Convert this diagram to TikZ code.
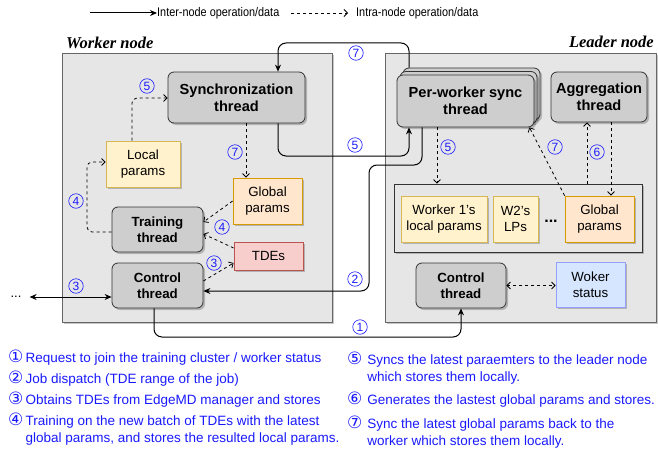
\documentclass[tikz,border=0pt]{standalone}
\usepackage{fontspec}
\setmainfont{Liberation Sans}
\newfontfamily\titlefont{Liberation Serif}
\newfontfamily\circfont{DejaVu Sans}
\usetikzlibrary{arrows.meta, shadows}
\definecolor{NumBlue}{RGB}{25,25,255}
\definecolor{PanelGray}{RGB}{230,230,230}
\definecolor{ThreadGray}{RGB}{206,206,206}
\definecolor{LocalFill}{RGB}{255,242,204}
\definecolor{LocalLine}{RGB}{214,182,86}
\definecolor{GlobalFill}{RGB}{255,230,204}
\definecolor{GlobalLine}{RGB}{215,155,0}
\definecolor{TdeFill}{RGB}{248,206,204}
\definecolor{TdeLine}{RGB}{184,84,80}
\definecolor{StatusFill}{RGB}{214,230,255}
\definecolor{StatusLine}{RGB}{150,160,255}
\newcommand{\stepnum}[1]{\smash{\circfont\fontsize{17}{17}\selectfont #1}}

\begin{document}
\begin{tikzpicture}[x=1pt, y=-1pt,
    shadowed/.style={drop shadow={shadow xshift=2pt, shadow yshift=-2pt, opacity=0.22, fill=black}},
    panel/.style={draw=black!60, fill=PanelGray, line width=0.8pt, shadowed},
    thread/.style={draw=black!80, fill=ThreadGray, rounded corners=6pt, line width=0.8pt, align=center, inner sep=2pt, font=\fontsize{14.6}{17}\selectfont\bfseries, shadowed},
    smallthread/.style={thread, font=\fontsize{13.3}{15.5}\selectfont\bfseries},
    param/.style={line width=0.8pt, align=center, inner sep=2pt, font=\fontsize{13.3}{15.5}\selectfont, shadowed},
    localp/.style={param, draw=LocalLine, fill=LocalFill},
    globalp/.style={param, draw=GlobalLine, fill=GlobalFill},
    num/.style={circle, draw=NumBlue, text=NumBlue, line width=0.6pt, inner sep=0pt, minimum size=14.5pt, font=\fontsize{12}{12}\selectfont},
    inter/.style={-{Stealth[length=7pt, width=6pt]}, line width=1pt, rounded corners=8pt},
    intra/.style={-{Straight Barb[length=3.5pt, width=7pt]}, dash pattern=on 3pt off 3pt, line width=0.8pt, rounded corners=5pt},
    dboth/.style={{Straight Barb[length=3.5pt, width=7pt]}-{Straight Barb[length=3.5pt, width=7pt]}},
    sboth/.style={{Stealth[length=7pt, width=6pt]}-{Stealth[length=7pt, width=6pt]}},
    legend/.style={anchor=west, inner sep=0pt, text=NumBlue, font=\fontsize{13.5}{17}\selectfont},
    keytext/.style={anchor=west, inner sep=0pt, font=\fontsize{12.5}{14}\selectfont}
  ]
    \useasboundingbox (0,0) rectangle (658,452);

    % Legend
    \coordinate (legA) at (90,13);
    \node[keytext] (legAt) at (157,13) {\scalebox{0.87}[1]{Inter-node operation/data}};
    \draw[inter] (legA) -- (legAt.west);
    \coordinate (legB) at (291,13);
    \node[keytext] (legBt) at (356,13) {\scalebox{0.87}[1]{Intra-node operation/data}};
    \draw[intra, shorten >=8pt] (legB) -- (legBt.west);

    % Panels
    \node[panel, minimum width=270, minimum height=269] (worker) at (197,187.5) {};
    \node[panel, minimum width=271, minimum height=269] (leader) at (520.5,187.5) {};
    \node[anchor=west, inner sep=0pt, font=\titlefont\fontsize{16.5}{18}\selectfont\bfseries\itshape] (wtitle) at (66,43) {Worker node};
    \node[anchor=east, inner sep=0pt, font=\titlefont\fontsize{16.5}{18}\selectfont\bfseries\itshape] (ltitle) at (654,42) {Leader node};

    % Worker node
    \node[thread, minimum width=137, minimum height=51] (sync) at (236.5,97.5) {Synchronization\\thread};
    \node[localp, minimum width=74, minimum height=46] (localw) at (143,164) {Local\\params};
    \node[globalp, minimum width=69, minimum height=46] (globalw) at (267.5,201) {Global\\params};
    \node[smallthread, minimum width=91, minimum height=45] (train) at (157.5,229.5) {Training\\thread};
    \node[param, draw=TdeLine, fill=TdeFill, minimum width=69, minimum height=28] (tdes) at (268.5,256) {TDEs};
    \node[smallthread, minimum width=91, minimum height=45] (ctrlw) at (157.5,285.5) {Control\\thread};
    \node[inner sep=0pt, font=\fontsize{13}{14}\selectfont] (more) at (16,297) {...};

    % Leader node
    \node[thread, minimum width=137, minimum height=52] (pwsb) at (471.5,94) {};
    \node[thread, minimum width=137, minimum height=52] (pwsm) at (468.5,97.5) {};
    \node[thread, minimum width=137, minimum height=52] (pws) at (465.5,101) {Per-worker sync\\thread};
    \node[thread, minimum width=96, minimum height=50] (agg) at (599,97) {Aggregation\\thread};
    \node[panel, draw=black!80, minimum width=248, minimum height=68] (store) at (518,218) {};
    \node[localp, minimum width=86, minimum height=46] (w1lp) at (444,219) {Worker 1's\\local params};
    \node[localp, minimum width=45, minimum height=46] (w2lp) at (515.5,219) {W2's\\LPs};
    \node[inner sep=0pt, font=\fontsize{16}{16}\selectfont\bfseries] (lpdots) at (551,221) {...};
    \node[globalp, minimum width=69, minimum height=46] (globall) at (599.5,219) {Global\\params};
    \node[smallthread, minimum width=90, minimum height=45] (ctrll) at (461,285.5) {Control\\thread};
    \node[param, draw=StatusLine, fill=StatusFill, minimum width=69, minimum height=45] (status) at (590.5,284.5) {Woker\\status};

    % Inter-node connectors
    \coordinate (r7) at (409,43);
    \coordinate (l7) at (278,43);
    \draw[inter] (r7 |- pwsb.north) -- (r7) -- (l7) -- (l7 |- sync.north);
    \coordinate (l5) at (278,156);
    \coordinate (r5) at (409,156);
    \draw[inter] (l5 |- sync.south) -- (l5) -- (r5) -- (r5 |- pws.south);
    \coordinate (a2) at (422,165);
    \coordinate (b2) at (369,165);
    \coordinate (c2) at (369,291);
    \draw[inter] (a2 |- pws.south) -- (a2) -- (b2) -- (c2) -- (c2 -| ctrlw.east);
    \coordinate (a1) at (154,337);
    \coordinate (b1) at (461,337);
    \draw[inter] (a1 |- ctrlw.south) -- (a1) -- (b1) -- (ctrll.south);
    \draw[inter, sboth] ([xshift=8pt]more.east) -- (ctrlw.west |- more);

    % Intra-node connectors, worker
    \coordinate (d5) at (132,98);
    \draw[intra] (d5 |- localw.north) -- (d5) -- (d5 -| sync.west);
    \coordinate (d7) at (246,150);
    \draw[intra] (d7 |- sync.south) -- (d7 |- globalw.north);
    \coordinate (d4a) at (87,232);
    \coordinate (d4b) at (87,162);
    \draw[intra] (d4a -| train.west) -- (d4a) -- (d4b) -- (d4b -| localw.west);
    \draw[intra] (globalw.west) -- ([yshift=7.5pt]train.east);
    \draw[intra] ([yshift=8pt]tdes.west) -- ([yshift=-4.5pt]train.east);
    \draw[intra] ([yshift=4.5pt]ctrlw.east) -- ([yshift=-7pt]tdes.west);

    % Intra-node connectors, leader
    \coordinate (e5) at (437,150);
    \draw[intra] (e5 |- pws.south) -- (e5 |- store.north);
    \draw[intra] (globall.north west) -- ([xshift=-5pt]pws.south east);
    \coordinate (e6a) at (587,150);
    \coordinate (e6b) at (611,150);
    \draw[intra] (e6a |- store.north) -- (e6a |- agg.south);
    \draw[intra] (e6b |- agg.south) -- (e6b |- globall.north);
    \draw[intra, dboth] (ctrll.east) -- (status.west |- ctrll.east);

    % Step numbers
    \node[num] (n7top) at (356,53) {7};
    \node[num] (n5mid) at (355,145) {5};
    \node[num] (n2) at (355,279) {2};
    \node[num] (n1) at (360,327) {1};
    \node[num] (n3ext) at (76,286) {3};
    \node[num] (n5w) at (147,86) {5};
    \node[num] (n7w) at (235,152) {7};
    \node[num] (n4a) at (76,201) {4};
    \node[num] (n4b) at (222,227) {4};
    \node[num] (n3w) at (214,263) {3};
    \node[num] (n5l) at (448,147) {5};
    \node[num] (n7l) at (555,147) {7};
    \node[num] (n6) at (597,152) {6};

    % Step list
    \node[legend] (leg1) at (8,359) {\stepnum{①}\,Request to join the training cluster / worker status};
    \node[legend] (leg2) at (8,380) {\stepnum{②}\,Job dispatch (TDE range of the job)};
    \node[legend] (leg3) at (8,401) {\stepnum{③}\,Obtains TDEs from EdgeMD manager and stores};
    \node[legend] (leg4) at (8,431) {\begin{tabular}{@{}l@{\,}l@{}}\stepnum{④}&Training on the new batch of TDEs with the latest\\&global params, and stores the resulted local params.\end{tabular}};
    \node[legend] (leg5) at (347,370) {\begin{tabular}{@{}l@{\hspace{5pt}}l@{}}\stepnum{⑤}&Syncs the latest paraemters to the leader node\\&which stores them locally.\end{tabular}};
    \node[legend] (leg6) at (347,401) {\begin{tabular}{@{}l@{\hspace{5pt}}l@{}}\stepnum{⑥}&Generates the lastest global params and stores.\end{tabular}};
    \node[legend] (leg7) at (347,434) {\begin{tabular}{@{}l@{\hspace{5pt}}l@{}}\stepnum{⑦}&Sync the latest global params back to the\\&worker which stores them locally.\end{tabular}};
  \end{tikzpicture}
\end{document}
